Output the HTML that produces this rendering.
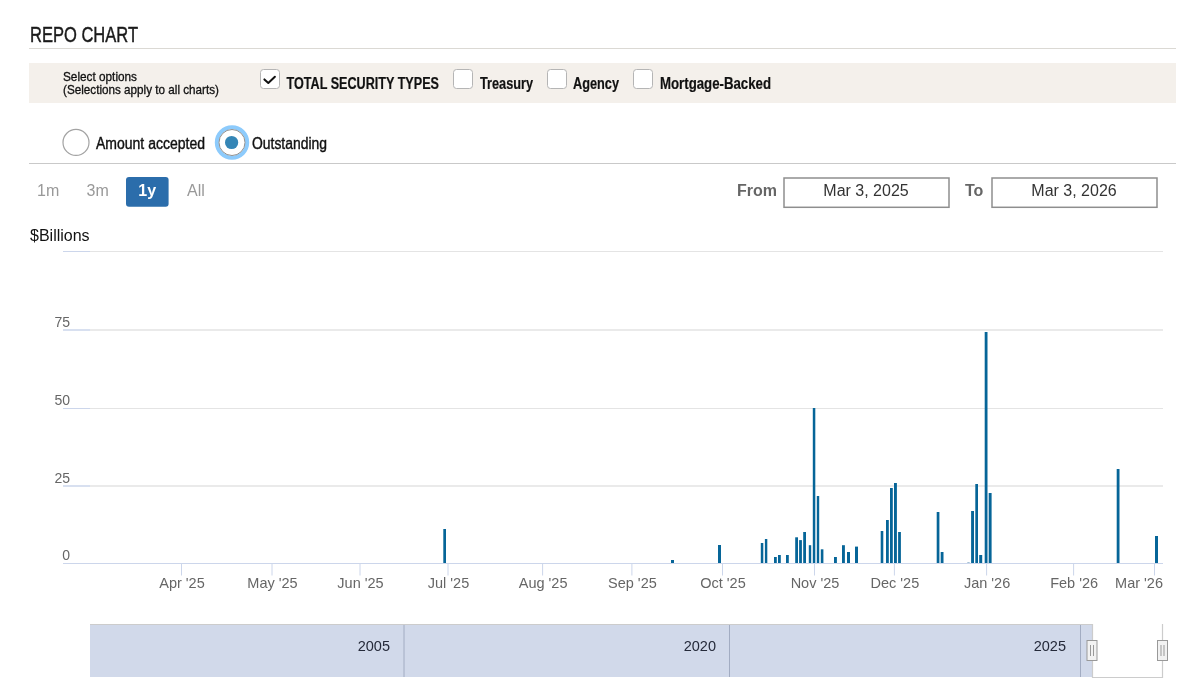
<!DOCTYPE html>
<html><head><meta charset="utf-8">
<style>
html,body{margin:0;padding:0;background:#fff;width:1198px;height:690px;overflow:hidden}
svg{display:block;position:absolute;left:0;top:0;will-change:transform}
text{font-family:"Liberation Sans",sans-serif}
</style></head><body>
<svg width="1198" height="690" viewBox="0 0 1198 690">
<!-- header -->
<text x="30" y="42" font-size="22" fill="#1a1a1a" stroke="#1a1a1a" stroke-width="0.45" textLength="108" lengthAdjust="spacingAndGlyphs">REPO CHART</text>
<rect x="29" y="48" width="1147" height="1" fill="#dbd9d4"/>
<rect x="29" y="63" width="1147" height="40" fill="#f4f0eb"/>
<text x="63" y="80.6" font-size="12.6" fill="#111" stroke="#111" stroke-width="0.3" textLength="74" lengthAdjust="spacingAndGlyphs">Select options</text>
<text x="63" y="93.6" font-size="12.6" fill="#111" stroke="#111" stroke-width="0.3" textLength="156" lengthAdjust="spacingAndGlyphs">(Selections apply to all charts)</text>
<!-- checkboxes -->
<g fill="#fff" stroke="#b5b5b5" stroke-width="1">
<rect x="260.5" y="69.5" width="19" height="19" rx="3"/>
<rect x="453.5" y="69.5" width="19" height="19" rx="3"/>
<rect x="547.5" y="69.5" width="19" height="19" rx="3"/>
<rect x="633.5" y="69.5" width="19" height="19" rx="3"/>
</g>
<path d="M264.4 79.4 L268.3 83 L274.9 76.7" fill="none" stroke="#111" stroke-width="2" stroke-linecap="round" stroke-linejoin="round"/>
<g font-size="16" font-weight="bold" fill="#111" stroke="#111" stroke-width="0.2">
<text x="286.5" y="89" textLength="152.5" lengthAdjust="spacingAndGlyphs">TOTAL SECURITY TYPES</text>
<text x="480" y="89" textLength="53" lengthAdjust="spacingAndGlyphs">Treasury</text>
<text x="573" y="89" textLength="46" lengthAdjust="spacingAndGlyphs">Agency</text>
<text x="660" y="89" textLength="111" lengthAdjust="spacingAndGlyphs">Mortgage-Backed</text>
</g>
<!-- radios -->
<circle cx="76" cy="142.4" r="13" fill="#fff" stroke="#a3a3a3" stroke-width="1.2"/>
<text x="96" y="149" font-size="16" fill="#111" stroke="#111" stroke-width="0.4" textLength="109" lengthAdjust="spacingAndGlyphs">Amount accepted</text>
<circle cx="232" cy="142.5" r="15.2" fill="#fff" stroke="#8dcbfc" stroke-width="4"/>
<circle cx="232" cy="142.5" r="13" fill="#fff" stroke="#8f8f8f" stroke-width="1"/>
<circle cx="231.6" cy="142.5" r="6.6" fill="#3586b6"/>
<text x="252" y="149" font-size="16" fill="#111" stroke="#111" stroke-width="0.4" textLength="75" lengthAdjust="spacingAndGlyphs">Outstanding</text>
<rect x="29" y="163" width="1147" height="1" fill="#c9c9c9"/>
<!-- range selector -->
<rect x="126" y="177" width="42.6" height="29.7" rx="3" fill="#2b6dab"/>
<g font-size="16" fill="#999">
<text x="37" y="196">1m</text>
<text x="86.5" y="196">3m</text>
<text x="187" y="196">All</text>
</g>
<text x="138.3" y="196" font-size="16" font-weight="bold" fill="#fff">1y</text>
<g font-size="16" font-weight="bold" fill="#666">
<text x="737" y="196">From</text>
<text x="965" y="196">To</text>
</g>
<g fill="#fff" stroke="#8e8e8e" stroke-width="1.5">
<rect x="784" y="178" width="165" height="29.3"/>
<rect x="992" y="178" width="165" height="29.3"/>
</g>
<g font-size="16" fill="#333" text-anchor="middle">
<text x="866" y="196">Mar 3, 2025</text>
<text x="1074" y="196">Mar 3, 2026</text>
</g>
<!-- chart -->
<text x="30" y="241" font-size="16" fill="#111">$Billions</text>
<g fill="#e4e4e4">
<rect x="90" y="251" width="1073" height="1"/>
<rect x="90" y="408" width="1073" height="1"/>
</g>
<g fill="#eaeaea">
<rect x="90" y="329" width="1073" height="2"/>
<rect x="90" y="485" width="1073" height="2"/>
</g>
<g fill="#ccd6eb">
<rect x="63" y="251" width="27" height="1"/>
<rect x="63" y="408" width="27" height="1"/>
</g>
<g fill="#d8e0f0">
<rect x="63" y="329" width="27" height="2"/>
<rect x="63" y="485" width="27" height="2"/>
</g>
<g font-size="14" fill="#666" text-anchor="end">
<text x="70" y="327">75</text>
<text x="70" y="405">50</text>
<text x="70" y="483">25</text>
<text x="70" y="560">0</text>
</g>
<g fill="#066598">
<rect x="443.3" y="529.0" width="2.7" height="34.5"/>
<rect x="671.0" y="560.0" width="3.0" height="3.5"/>
<rect x="718.0" y="545.0" width="3.0" height="18.5"/>
<rect x="760.8" y="543.0" width="2.5" height="20.5"/>
<rect x="764.9" y="539.0" width="2.4" height="24.5"/>
<rect x="774.0" y="557.0" width="2.8" height="6.5"/>
<rect x="778.0" y="555.0" width="2.8" height="8.5"/>
<rect x="786.0" y="555.0" width="2.8" height="8.5"/>
<rect x="795.2" y="537.3" width="2.8" height="26.2"/>
<rect x="799.1" y="540.1" width="2.8" height="23.4"/>
<rect x="803.2" y="532.0" width="2.8" height="31.5"/>
<rect x="808.8" y="545.2" width="2.4" height="18.3"/>
<rect x="812.8" y="408.0" width="2.5" height="155.5"/>
<rect x="816.8" y="496.0" width="2.4" height="67.5"/>
<rect x="820.8" y="549.3" width="2.6" height="14.2"/>
<rect x="834.0" y="557.0" width="2.9" height="6.5"/>
<rect x="842.0" y="545.2" width="2.9" height="18.3"/>
<rect x="847.0" y="552.0" width="3.0" height="11.5"/>
<rect x="855.0" y="546.6" width="3.0" height="16.9"/>
<rect x="880.7" y="531.0" width="2.6" height="32.5"/>
<rect x="886.0" y="520.0" width="2.8" height="43.5"/>
<rect x="890.0" y="488.0" width="2.8" height="75.5"/>
<rect x="894.0" y="483.0" width="2.9" height="80.5"/>
<rect x="898.1" y="532.0" width="2.8" height="31.5"/>
<rect x="936.7" y="512.0" width="2.7" height="51.5"/>
<rect x="940.7" y="552.0" width="2.8" height="11.5"/>
<rect x="971.1" y="511.0" width="2.9" height="52.5"/>
<rect x="975.3" y="484.0" width="2.7" height="79.5"/>
<rect x="979.2" y="555.0" width="3.0" height="8.5"/>
<rect x="984.7" y="332.0" width="2.8" height="231.5"/>
<rect x="988.7" y="493.0" width="2.9" height="70.5"/>
<rect x="1116.7" y="469.0" width="2.8" height="94.5"/>
<rect x="1155.0" y="536.0" width="3.0" height="27.5"/>
</g>
<rect x="967.3" y="562.2" width="2.4" height="0.9" fill="#8fb3cc"/>
<rect x="63" y="563" width="1100" height="1" fill="#ccd6eb"/>
<g stroke="#ccd6eb" stroke-width="1">
<line x1="181.5" y1="563" x2="181.5" y2="575.5"/>
<line x1="272" y1="563" x2="272" y2="575.5"/>
<line x1="360" y1="563" x2="360" y2="575.5"/>
<line x1="448" y1="563" x2="448" y2="575.5"/>
<line x1="542.6" y1="563" x2="542.6" y2="575.5"/>
<line x1="631.9" y1="563" x2="631.9" y2="575.5"/>
<line x1="722.5" y1="563" x2="722.5" y2="575.5"/>
<line x1="814.5" y1="563" x2="814.5" y2="575.5"/>
<line x1="894.4" y1="563" x2="894.4" y2="575.5"/>
<line x1="986.6" y1="563" x2="986.6" y2="575.5"/>
<line x1="1073.6" y1="563" x2="1073.6" y2="575.5"/>
<line x1="1154.5" y1="563" x2="1154.5" y2="575.5"/>
</g>
<g font-size="14.5" fill="#666" text-anchor="middle">
<text x="182.0" y="588">Apr '25</text>
<text x="272.5" y="588">May '25</text>
<text x="360.5" y="588">Jun '25</text>
<text x="448.5" y="588">Jul '25</text>
<text x="543.1" y="588">Aug '25</text>
<text x="632.4" y="588">Sep '25</text>
<text x="723.0" y="588">Oct '25</text>
<text x="815.0" y="588">Nov '25</text>
<text x="894.9" y="588">Dec '25</text>
<text x="987.1" y="588">Jan '26</text>
<text x="1074.1" y="588">Feb '26</text>
<text x="1163" y="588" text-anchor="end">Mar '26</text>
</g>
<!-- navigator -->
<rect x="90" y="625" width="1002" height="52" fill="#d1d9ea"/>
<g stroke="#a2acc2" stroke-width="1">
<line x1="404" y1="625" x2="404" y2="677"/>
<line x1="729.5" y1="625" x2="729.5" y2="677"/>
<line x1="1080.5" y1="625" x2="1080.5" y2="677"/>
</g>
<g font-size="14.5" fill="#252a3a" text-anchor="end">
<text x="390" y="651">2005</text>
<text x="716" y="651">2020</text>
<text x="1066" y="651">2025</text>
</g>
<path d="M90 624.5 H1092.5 V677.5 H1162.5 V624" fill="none" stroke="#cccccc" stroke-width="1.2"/>
<g fill="#f2f2f2" stroke="#999" stroke-width="1">
<rect x="1087" y="640.5" width="10" height="20"/>
<rect x="1157.5" y="640.5" width="10" height="20"/>
</g>
<g stroke="#999" stroke-width="1">
<line x1="1090.5" y1="645" x2="1090.5" y2="656"/>
<line x1="1093.5" y1="645" x2="1093.5" y2="656"/>
<line x1="1161" y1="645" x2="1161" y2="656"/>
<line x1="1164" y1="645" x2="1164" y2="656"/>
</g>
</svg>
</body></html>
